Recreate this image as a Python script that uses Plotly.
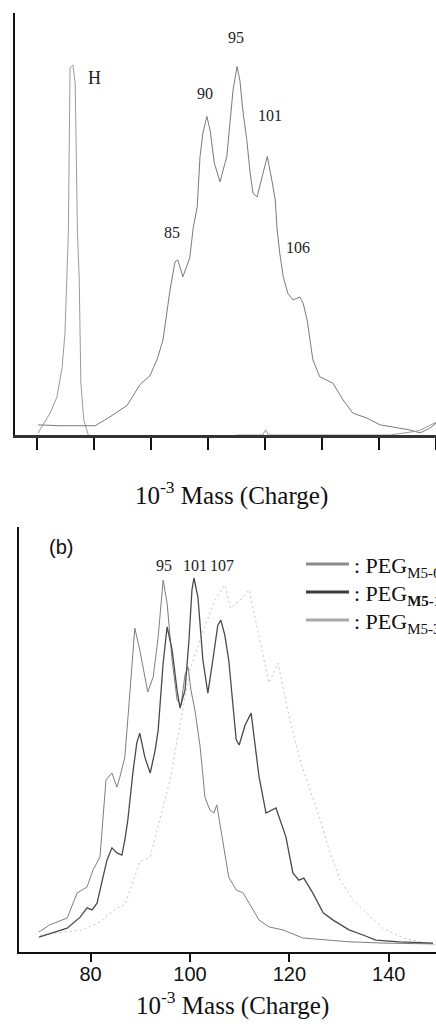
import plotly.graph_objects as go

W, H = 436, 1026

# ---------------- data (panel a) ----------------
a_h_mass = [60.2, 62.3, 63.5, 64.4, 64.9, 65.5, 65.8, 66.3, 66.7, 67.1, 67.4, 67.7, 68.2, 69.0]
a_h_int = [0.005, 0.052, 0.09, 0.16, 0.24, 0.48, 0.87, 0.877, 0.834, 0.478, 0.374, 0.123, 0.036, 0.0]

a_mass = [60.2, 64.0, 70.2, 72.8, 75.8, 78.1, 79.8, 81.1, 82.1, 83.3, 84.2, 84.7, 85.6, 86.8,
          87.4, 88.1, 88.6, 89.1, 89.8, 90.4, 91.1, 92.1, 93.3, 93.9, 94.4, 95.1, 95.6, 96.1,
          96.8, 97.4, 97.9, 98.6, 99.5, 100.4, 101.2, 101.8, 102.1, 102.6, 103.2, 104.0, 104.9,
          106.1, 106.7, 107.4, 108.4, 109.6, 111.9, 113.7, 115.4, 117.9, 120.2, 122.5, 125.4,
          127.2, 128.9, 130.0]
a_int = [0.024, 0.022, 0.022, 0.043, 0.07, 0.12, 0.14, 0.18, 0.225, 0.34, 0.41, 0.415, 0.375, 0.42,
         0.49, 0.54, 0.66, 0.715, 0.755, 0.72, 0.645, 0.6, 0.66, 0.746, 0.818, 0.873, 0.84, 0.77,
         0.70, 0.62, 0.573, 0.564, 0.61, 0.66, 0.604, 0.557, 0.49, 0.43, 0.375, 0.336, 0.32,
         0.327, 0.312, 0.272, 0.178, 0.138, 0.123, 0.083, 0.052, 0.04, 0.024, 0.019, 0.012,
         0.005, 0.016, 0.028]

a_base_mass = [95.0, 99.6, 100.1, 100.6, 122.0, 127.0, 130.0]
a_base_int = [0.0, 0.0, 0.012, 0.0, 0.0, 0.01, 0.03]

a_tick_vals = [60, 70, 80, 90, 100, 110, 120, 130]
a_peak_labels = ["H", "95", "90", "101", "85", "106"]
a_peak_x = [70.0, 94.9, 89.5, 100.9, 83.7, 105.8]
a_peak_y = [0.846, 0.943, 0.81, 0.758, 0.479, 0.445]

# ---------------- data (panel b) ----------------
b_L_mass = [69.6, 71.8, 75.3, 77.3, 79.3, 80.5, 81.9, 82.5, 83.1, 84.3, 85.3, 85.9, 86.9, 87.9,
            88.9, 89.9, 91.5, 92.6, 93.6, 94.6, 95.4, 96.4, 97.4, 98.2, 99.0, 99.6, 100.2, 101.0,
            102.0, 102.6, 103.0, 104.0, 104.8, 105.4, 106.6, 107.8, 109.3, 110.7, 111.9, 113.9,
            115.9, 118.7, 122.7, 127.4, 132.0, 138.8, 148.9]
b_L_int = [0.047, 0.064, 0.08, 0.139, 0.153, 0.193, 0.224, 0.327, 0.405, 0.421, 0.388, 0.412, 0.459, 0.609,
           0.762, 0.711, 0.612, 0.647, 0.741, 0.875, 0.821, 0.687, 0.593, 0.581, 0.652, 0.671, 0.616, 0.569,
           0.487, 0.416, 0.365, 0.334, 0.327, 0.346, 0.264, 0.176, 0.146, 0.139, 0.115, 0.075,
           0.059, 0.052, 0.033, 0.028, 0.024, 0.021, 0.019]

b_M_mass = [69.6, 75.3, 77.9, 79.3, 80.3, 81.3, 82.5, 83.3, 84.3, 85.3, 86.3, 86.9, 87.5, 88.5,
            89.3, 89.9, 90.9, 92.0, 93.0, 93.6, 94.6, 95.4, 96.4, 97.4, 98.0, 99.0, 99.8, 100.4,
            100.8, 101.6, 102.6, 103.6, 104.6, 105.6, 106.2, 107.0, 107.8, 109.3, 109.9, 111.1,
            112.3, 113.3, 113.9, 115.3, 117.3, 119.3, 120.7, 121.9, 122.9, 124.7, 126.8, 128.8,
            132.0, 134.8, 137.4, 142.1, 148.9]
b_M_int = [0.035, 0.056, 0.082, 0.104, 0.099, 0.115, 0.176, 0.216, 0.245, 0.233, 0.228, 0.264, 0.311, 0.421,
           0.492, 0.515, 0.459, 0.421, 0.475, 0.522, 0.68, 0.765, 0.711, 0.616, 0.574, 0.616, 0.734, 0.852,
           0.88, 0.835, 0.687, 0.609, 0.687, 0.769, 0.781, 0.746, 0.687, 0.499, 0.487, 0.534,
           0.562, 0.475, 0.412, 0.327, 0.339, 0.271, 0.186, 0.169, 0.174, 0.139, 0.092, 0.075,
           0.052, 0.04, 0.028, 0.024, 0.021]

b_R_mass = [69.8, 78.5, 81.9, 85.3, 86.9, 89.9, 92.0, 96.0, 100.0, 102.0, 105.0, 107.0, 108.2, 110.1,
            111.9, 114.1, 115.9, 117.7, 120.1, 122.3, 125.8, 128.0, 130.2, 132.8, 135.4, 138.8,
            142.9, 149.5]
b_R_int = [0.04, 0.052, 0.071, 0.104, 0.111, 0.212, 0.224, 0.405, 0.664, 0.734, 0.828, 0.864, 0.809, 0.828,
           0.852, 0.734, 0.633, 0.68, 0.546, 0.445, 0.327, 0.24, 0.169, 0.122, 0.094, 0.056,
           0.033, 0.016]

b_tick_vals = [80, 100, 120, 140]
b_tick_text = ["80", "100", "120", "140"]
b_peak_labels = ["95", "101", "107"]
b_peak_x = [94.8, 101.0, 106.5]
legend_main = ": PEG"
legend_subs = ["M5-6", "M5-1", "M5-3"]
legend_colors = ["#8a8a8a", "#3c3c3c", "#a8a8a8"]

# ---------------- figure ----------------
def fx(px):
    return px / W

def fy(py):
    return 1 - py / H

fig = go.Figure()

fig.add_trace(go.Scatter(x=a_h_mass, y=a_h_int, mode="lines",
                         line=dict(color="#9a9a9a", width=1), xaxis="x", yaxis="y"))
fig.add_trace(go.Scatter(x=a_mass, y=a_int, mode="lines",
                         line=dict(color="#7a7a7a", width=1), xaxis="x", yaxis="y"))
fig.add_trace(go.Scatter(x=a_base_mass, y=a_base_int, mode="lines",
                         line=dict(color="#9a9a9a", width=1), xaxis="x", yaxis="y"))

fig.add_trace(go.Scatter(x=b_R_mass, y=b_R_int, mode="lines",
                         line=dict(color="#c4c4c4", width=1, dash="2px,3px"), xaxis="x2", yaxis="y2"))
fig.add_trace(go.Scatter(x=b_L_mass, y=b_L_int, mode="lines",
                         line=dict(color="#7e7e7e", width=1), xaxis="x2", yaxis="y2"))
fig.add_trace(go.Scatter(x=b_M_mass, y=b_M_int, mode="lines",
                         line=dict(color="#4a4a4a", width=1.3), xaxis="x2", yaxis="y2"))

serif = "Liberation Serif, Times New Roman, serif"
sans = "Liberation Sans, Arial, sans-serif"

annotations = []
for t, x, y in zip(a_peak_labels, a_peak_x, a_peak_y):
    annotations.append(dict(text=t, x=x, y=y, xref="x", yref="y", showarrow=False,
                            font=dict(family=serif, size=18 if t == "H" else 16, color="#222")))
for t, x in zip(b_peak_labels, b_peak_x):
    annotations.append(dict(text=t, x=x, y=fy(565), xref="x2", yref="paper", showarrow=False,
                            font=dict(family=serif, size=16, color="#222")))

annotations.append(dict(text="10<sup>-3</sup> Mass (Charge)", x=fx(231), y=fy(512), xref="paper",
                        yref="paper", yanchor="bottom", showarrow=False,
                        font=dict(family=serif, size=25, color="#111")))
annotations.append(dict(text="10<sup>-3</sup> Mass (Charge)", x=fx(233), y=fy(1022), xref="paper",
                        yref="paper", yanchor="bottom", showarrow=False,
                        font=dict(family=serif, size=25, color="#111")))
annotations.append(dict(text="(b)", x=fx(47), y=fy(547), xref="paper", yref="paper", showarrow=False,
                        font=dict(family=sans, size=20, color="#111")))

shapes = []
for i, (sub, col) in enumerate(zip(legend_subs, legend_colors)):
    yy = [564, 592, 620][i]
    shapes.append(dict(type="line", xref="paper", yref="paper", x0=fx(306), x1=fx(349),
                       y0=fy(yy), y1=fy(yy), line=dict(color=col, width=3)))
    sub_txt = f'<span style="font-size:15px">{sub}</span>'
    if i == 1:
        sub_txt = f"<b>{sub_txt}</b>"
    annotations.append(dict(text=f"{legend_main}<sub>{sub_txt}</sub>", x=fx(352), y=fy(yy + 3),
                            xref="paper", yref="paper", xanchor="left", showarrow=False,
                            font=dict(family=serif, size=22, color="#111")))

fig.update_layout(
    width=W, height=H, margin=dict(l=0, r=0, t=0, b=0),
    paper_bgcolor="white", plot_bgcolor="white", showlegend=False,
    xaxis=dict(domain=[fx(15), 1], range=[56.14, 130], anchor="y",
               showline=True, linecolor="#333", linewidth=3, showgrid=False, zeroline=False,
               tickmode="array", tickvals=a_tick_vals, ticks="outside", ticklen=12,
               tickwidth=2, tickcolor="#111", showticklabels=False),
    yaxis=dict(domain=[fy(435), fy(13)], range=[0, 1], anchor="x",
               showline=True, linecolor="#111", linewidth=2, showgrid=False, zeroline=False,
               ticks="", showticklabels=False),
    xaxis2=dict(domain=[fx(19), 1], range=[65.6, 149.5], anchor="y2",
                showline=True, linecolor="#111", linewidth=2, showgrid=False, zeroline=False,
                tickmode="array", tickvals=b_tick_vals, ticktext=b_tick_text, ticks="outside",
                ticklen=8, tickwidth=2, tickcolor="#111", ticklabelstandoff=-5,
                tickfont=dict(family=sans, size=20, color="#111")),
    yaxis2=dict(domain=[fy(952), fy(527)], range=[0, 1], anchor="x2",
                showline=True, linecolor="#111", linewidth=2, showgrid=False, zeroline=False,
                ticks="", showticklabels=False),
    annotations=annotations, shapes=shapes,
)

fig.write_html("out.html")
